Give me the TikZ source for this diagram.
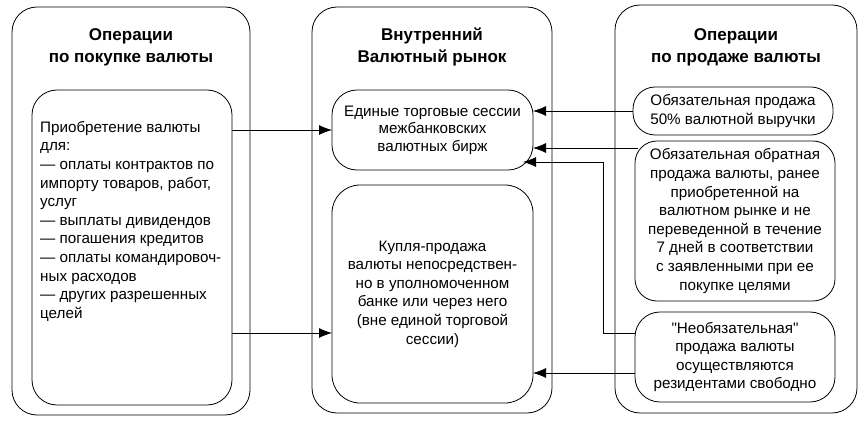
\documentclass[tikz,border=0pt]{standalone}
\usepackage{fontspec}
\setmainfont{Liberation Sans}
\newfontfamily\plainfont{Liberation Sans}
\usetikzlibrary{arrows.meta}

\begin{document}
\begin{tikzpicture}[x=1pt,y=-1pt,
        outerbox/.style={draw,rounded corners=25pt,line width=.8pt,inner sep=0pt,outer sep=0pt},
        innerbox/.style={draw,rounded corners=22pt,line width=.8pt,fill=white,inner sep=0pt,outer sep=0pt},
        heading/.style={align=center,font=\fontsize{17}{22}\selectfont\bfseries},
        body/.style={align=center,font=\fontsize{15.2}{18.6}\selectfont},
        conn/.style={-{Latex[length=13pt,width=10pt]},line width=.8pt}]
        \useasboundingbox (0,0) rectangle (862,422);
        % frames of the three columns
        \node [outerbox,minimum width=238pt,minimum height=408pt] (buyframe) at (131,211) {};
        \node [outerbox,minimum width=240pt,minimum height=406pt] (marketframe) at (432,210) {};
        \node [outerbox,minimum width=242pt,minimum height=408pt] (sellframe) at (736,209) {};
        \node [heading] (buytitle) at (131,47) {Операции\\по покупке валюты};
        \node [heading] (markettitle) at (432,47) {Внутренний\\Валютный рынок};
        \node [heading] (selltitle) at (736,47) {Операции\\по продаже валюты};
        % left column
        \node [innerbox,rounded corners=25pt,minimum width=200pt,minimum height=315pt] (buybox) at (132,247.5) {};
        \node [body,align=left,anchor=north west,inner sep=0pt] (buytext) at (40,121) {Приобретение валюты\\для:\\— оплаты контрактов по\\импорту товаров, работ,\\услуг\\— выплаты дивидендов\\— погашения кредитов\\— оплаты командировоч-\\ных расходов\\— других разрешенных\\целей};
        % middle column
        \node [innerbox,rounded corners=25pt,minimum width=201pt,minimum height=80pt,body,font=\fontsize{15.2}{17.5}\selectfont] (markettop) at (432.5,130) {Единые торговые сессии\\межбанковских\\валютных бирж};
        \node [innerbox,rounded corners=28pt,minimum width=201pt,minimum height=218pt,body] (marketbottom) at (432.5,294) {Купля-продажа\\валюты непосредствен-\\но в уполномоченном\\банке или через него\\(вне единой торговой\\сессии)};
        % right column
        \node [innerbox,minimum width=200pt,minimum height=48pt,body] (sellone) at (733,111) {Обязательная продажа\\50\% валютной выручки};
        \node [innerbox,minimum width=200pt,minimum height=160pt,body] (selltwo) at (735,221) {Обязательная обратная\\продажа валюты, ранее\\приобретенной на\\валютном рынке и не\\переведенной в течение\\7 дней в соответствии\\с заявленными при ее\\покупке целями};
        \node [innerbox,rounded corners=25pt,minimum width=200pt,minimum height=90pt,body] (sellthree) at (735,357) {{\plainfont"}Необязательная{\plainfont"}\\продажа валюты\\осуществляются\\резидентами свободно};
        % connectors
        \coordinate (jog) at (603,162);
        \draw [conn] (buybox.east |- markettop.west) -- (markettop.west);
        \draw [conn] (buybox.east |- 0,333) -- ([yshift=-39pt]marketbottom.west);
        \draw [conn] (sellone.west) -- (sellone.west -| markettop.east);
        \draw [conn] ([xshift=3pt,yshift=-7pt]selltwo.north west) -- ([yshift=-7pt]selltwo.north west -| markettop.east);
        \draw [conn] ([yshift=24pt]sellthree.west) -| (jog) -- ([xshift=-10pt,yshift=8pt]markettop.south east);
        \draw [conn] ([yshift=-16pt]sellthree.west) -- ([yshift=-16pt]sellthree.west -| marketbottom.east);
    \end{tikzpicture}
\end{document}
